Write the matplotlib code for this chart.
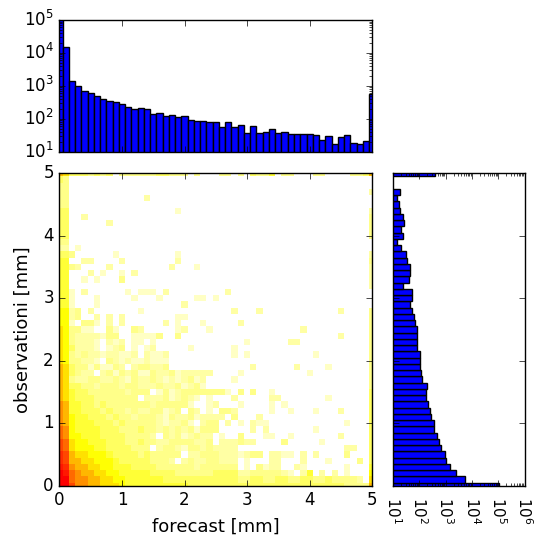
import numpy as np
import matplotlib
matplotlib.use('Agg')
import matplotlib.pyplot as plt

# colour level of each cell, read by eye, top row first (0 = empty)
level_rows = [
    "8 7444343403 3333344333 0300033030 4335033000 3300003348",
    "4 3000000000 0000000000 0000000000 0000000000 0000000000",
    "3 3000000000 0000000000 0000000000 0000000000 0000000000",
    "3 3000000000 0000000000 0000000000 0000000000 0000000002",
    "3 3000000000 0002000000 0000000000 0000000000 0000000000",
    "3 3000000000 0000000000 0000000000 0000000000 0000000000",
    "4 4000000000 0000000010 0000000000 0000000000 0000000002",
    "4 4002000000 0000000000 0000000000 0000000000 0000000003",
    "4 4000000200 0000000000 0000000000 0000000000 0000000003",
    "4 4000000000 0000000000 0000000000 0000000000 0000000003",
    "4 4000000000 0000000000 0000000000 0000000000 0000000003",
    "3 3000000000 0000000000 0000000000 0000000000 0000000000",
    "2 2010000000 0000000000 0000000000 0000000000 0000000000",
    "4 4300000010 0000000010 0000000000 0000000000 0000000002",
    "5 5002200002 0000000020 0000000000 0000000000 0000000003",
    "5 5320000200 0000000200 0100000000 0000000000 0000000002",
    "5 5000201001 0200000000 0000000000 0000000000 0000000002",
    "5 5001010003 0000000000 0000000000 0000000000 0000000002",
    "5 5000000000 0000000000 0000000000 0000000000 0000000002",
    "5 5102000000 1011102000 0000002000 0000000000 0000000000",
    "5 5100010000 0100010000 0110100000 0000000000 0000000000",
    "5 5100010000 0000000002 0000000000 0000000000 0000000000",
    "6 6230200000 0010000000 0000000200 0200000000 0000200003",
    "6 6230020202 0000000011 0000000000 0000000000 0000000003",
    "6 6103310202 0000002010 0010000020 0000000000 0000000003",
    "7 6331100310 0320000012 0001000000 0000000020 0000000003",
    "7 6322221330 0111130030 0000000000 0000000000 0000200003",
    "7 6322210212 0110100000 0000000001 0000002200 0000000003",
    "7 6422210123 0101200000 1000000100 0000000000 0000000003",
    "7 6323221221 1202112000 0000000101 0000000000 1000000003",
    "7 6332210321 2112111000 0000000000 0000000000 0000000003",
    "8 7433131132 0233223000 0000000000 2000000200 0010000003",
    "8 7432202313 2311322312 2222000010 0000000001 0000000003",
    "8 7322332232 1322321212 3120000100 0000000000 0000000003",
    "8 7443323332 3322232231 2310000000 0000000000 0000000003",
    "8 7544333333 2333013123 3333331030 3001000000 0000000004",
    "8 7544433333 3302223123 2101000200 0002200000 0010000004",
    "9 8554434333 3333233333 1001200010 0001010000 0000000004",
    "9 8554443433 2322331230 3201033200 0001001000 1000200004",
    "9 8655444343 3233321322 3122220300 0200000000 0000000004",
    "9 8655544434 3333321223 1023302010 2110000000 0000010004",
    "a 9655554443 3343323232 3133300000 2020000000 1000000004",
    "a 9665554444 3333203231 2322010030 0011001000 0000200004",
    "b a766555444 3343322333 3223022232 2000030000 0100000004",
    "b a766655444 4333023321 3323222200 0000000000 0000022004",
    "c b877666544 4434333330 2233322212 3302211020 2000030004",
    "c b887766654 4444333202 3223322201 0002200020 0010000304",
    "d c988776655 5444433333 3233333301 0312200210 0000010005",
    "e da98877665 5555444433 3333444422 3333321025 0202010006",
    "e ea99887766 5555554444 4444444433 4433443344 3343333207",
    "e eb99887776 5555555555 4444444444 4444444444 4444433338",
]

# colormap position of levels 0..e
level_shades = [0, .06, .09, .12, .16, .20, .25, .30, .36, .42, .48, .53, .57, .60, .64]

forecast_counts = [
    150000, 15500, 1400, 990, 697, 592, 502, 398, 346, 323, 274, 233, 202,
    217, 202, 136, 146, 124, 127, 110, 118, 94, 87, 87, 78, 78, 58, 80, 55,
    63, 38, 59, 38, 41, 48, 37, 41, 34, 34, 34, 34, 32, 22, 30, 17.5, 27, 32,
    19, 17.5, 21, 552,
]

# bottom bin first
observed_counts = [
    107000, 5370, 2430, 1470, 1035, 920, 686, 559, 469, 349, 349, 284, 260,
    212, 182, 178, 200, 132, 118, 108, 108, 108, 80, 80, 80, 83, 69.5, 62,
    52, 43, 52, 52, 24, 39, 43, 43, 35, 30, 20, 14, 25, 20, 27, 25, 18.5,
    16.5, 14, 18.5, 0, 0, 383,
]

x_ticks = [0, 1, 2, 3, 4, 5]
y_ticks = [0, 1, 2, 3, 4, 5]
count_ticks = [1e1, 1e2, 1e3, 1e4, 1e5, 1e6]
count_labels = ['$\\mathdefault{10^{1}}$', '$\\mathdefault{10^{2}}$', '$\\mathdefault{10^{3}}$',
                '$\\mathdefault{10^{4}}$', '$\\mathdefault{10^{5}}$', '$\\mathdefault{10^{6}}$']

plt.style.use('classic')
plt.rcParams['font.family'] = 'DejaVu Sans'

W, H = 534, 538
fig = plt.figure(figsize=(W / 100, H / 100), dpi=100, facecolor='white')


def make_axes(left, top, right, bottom):
    return fig.add_axes([left / W, 1 - bottom / H, (right - left) / W, (bottom - top) / H])


edges = np.arange(52) * 0.1 - 0.05
centers = np.arange(51) * 0.1

levels = np.array([[int(c, 16) for c in r.replace(' ', '')] for r in level_rows])[::-1]
shade = np.ma.masked_where(levels == 0, np.array(level_shades)[levels])

ax_main = make_axes(59.4, 173.2, 372.2, 485.8)
ax_main.pcolormesh(edges, edges, shade, cmap='hot_r', vmin=0, vmax=1)
ax_main.set_xlim(0, 5)
ax_main.set_ylim(0, 5)
ax_main.set_xticks(x_ticks)
ax_main.set_yticks(y_ticks)
ax_main.set_xlabel('forecast [mm]', fontsize=13, labelpad=6)
ax_main.set_ylabel('observationi [mm]', fontsize=13, labelpad=8)

ax_top = make_axes(59.4, 20, 372.2, 151.7)
ax_top.bar(centers, forecast_counts, width=0.1, color='blue', edgecolor='black')
ax_top.set_yscale('log')
ax_top.set_xlim(0, 5)
ax_top.set_ylim(10, 1e5)
ax_top.set_xticks(x_ticks)
ax_top.set_xticklabels([])

ax_right = make_axes(393, 173.2, 524.5, 485.8)
ax_right.barh(centers, observed_counts, height=0.1, color='blue', edgecolor='black')
ax_right.set_xscale('log')
ax_right.set_xticks(count_ticks)
ax_right.set_xticklabels([])
ax_right.set_xlim(10, 1e6)
ax_right.set_ylim(0, 5)
ax_right.set_yticks(y_ticks)
ax_right.set_yticklabels([])
for tick, label in zip(count_ticks, count_labels):
    ax_right.text(tick, -0.035, label, transform=ax_right.get_xaxis_transform(),
                  rotation=270, ha='center', va='top', fontsize=11, clip_on=False)

fig.savefig('out.png', dpi=100, facecolor='white')
